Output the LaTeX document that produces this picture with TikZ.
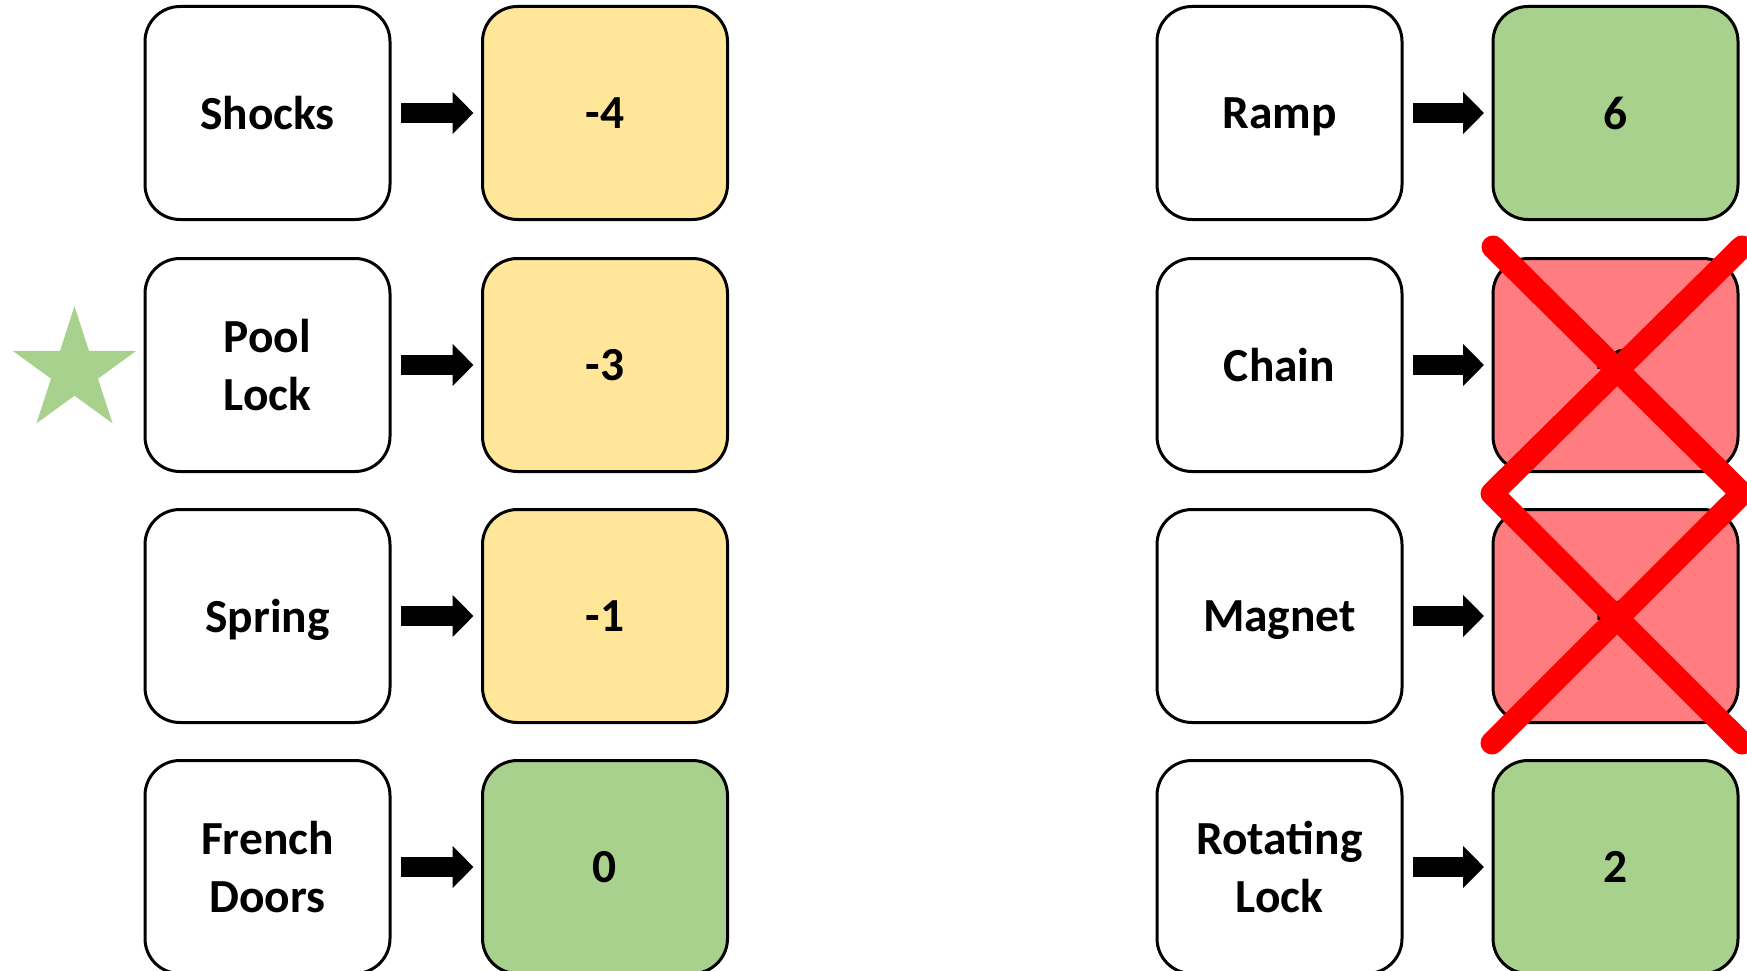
\documentclass[tikz,border=0pt]{standalone}
\usepackage{fontspec}
\setmainfont{Carlito}
\usetikzlibrary{arrows.meta,shapes.geometric}
\definecolor{okgreen}{HTML}{A9D18E}
\definecolor{warnyellow}{HTML}{FFE699}
\definecolor{badred}{HTML}{FF7C80}

\begin{document}
\begin{tikzpicture}
    \tikzstyle{every node}=[draw,rounded corners=0.7cm,line width=0.06cm,
                            minimum width=4.9cm,minimum height=4.26cm,
                            inner sep=0pt,align=center,text depth=0pt,
                            font=\bfseries\fontsize{27}{33}\selectfont]
    \tikzstyle{yellowbox}=[fill=warnyellow]
    \tikzstyle{greenbox}=[fill=okgreen]
    \tikzstyle{redbox}=[fill=badred]
    \tikzstyle{fatarrow}=[line width=0.4cm,
                          -{Triangle[length=0.42cm,width=0.82cm]},
                          shorten <=0.19cm,shorten >=0.15cm]
    \tikzstyle{crossout}=[red,line width=0.46cm,line cap=round,line join=round]

    \useasboundingbox (0,0) rectangle (34.94,-19.4);

    % First the left pair of columns: what was tried, and its score
    \node (shocks)   at (5.35,-2.26)  {Shocks};
    \node (poollock) at (5.35,-7.30)  {Pool\\Lock};
    \node (spring)   at (5.35,-12.32) {Spring};
    \node (french)   at (5.35,-17.34) {French\\Doors};

    \node[yellowbox] (m4)   at (12.1,-2.26)  {-4};
    \node[yellowbox] (m3)   at (12.1,-7.30)  {-3};
    \node[yellowbox] (m1)   at (12.1,-12.32) {-1};
    \node[greenbox]  (zero) at (12.1,-17.34) {0};

    \draw[fatarrow] (shocks) -- (m4);
    \draw[fatarrow] (poollock) -- (m3);
    \draw[fatarrow] (spring) -- (m1);
    \draw[fatarrow] (french) -- (zero);

    % The ``favourite'' gets a star
    \node[star,star points=5,star point ratio=2.618,sharp corners,draw=none,
          fill=okgreen,minimum size=2.59cm] (fav) at (1.49,-7.42) {};

    % And the right pair of columns
    \node (ramp)    at (25.59,-2.26)  {Ramp};
    \node (chain)   at (25.59,-7.30)  {Chain};
    \node (magnet)  at (25.59,-12.32) {Magnet};
    \node (rotlock) at (25.59,-17.34) {Rotating\\Lock};

    \node[greenbox] (six)    at (32.31,-2.26)  {6};
    \node[redbox]   (chainv) at (32.31,-7.30)  {-2};
    \node[redbox]   (magv)   at (32.31,-12.32) {-2};
    \node[greenbox] (two)    at (32.31,-17.34) {2};

    \draw[fatarrow] (ramp) -- (six);
    \draw[fatarrow] (chain) -- (chainv);
    \draw[fatarrow] (magnet) -- (magv);
    \draw[fatarrow] (rotlock) -- (two);

    % Cross out the two ruled-out ones
    \coordinate (xtl) at (29.86,-4.94);
    \coordinate (xtr) at (34.84,-4.94);
    \coordinate (xml) at (29.84,-9.87);
    \coordinate (xmr) at (34.84,-9.87);
    \coordinate (xbl) at (29.84,-14.86);
    \coordinate (xbr) at (34.84,-14.86);
    \draw[crossout] (xtl) -- (xmr) -- (xbl);
    \draw[crossout] (xtr) -- (xml) -- (xbr);

\end{tikzpicture}
\end{document}
